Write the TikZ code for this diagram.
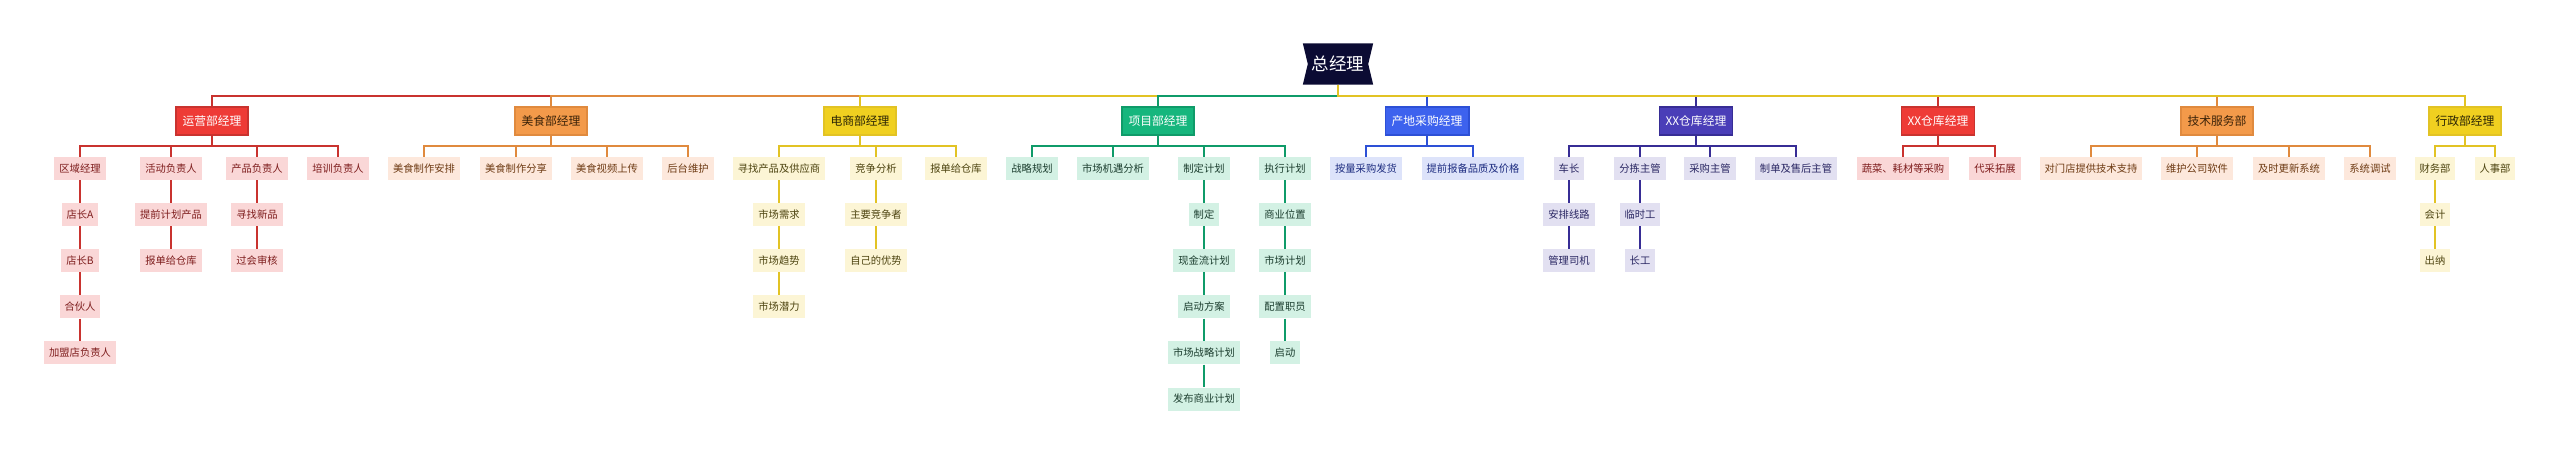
\documentclass[tikz,border=0pt]{standalone}
\usepackage{fontspec}
\setmainfont{Noto Sans CJK SC}
\usetikzlibrary{positioning,backgrounds}

\definecolor{rootbg}{HTML}{0B0B33}
\definecolor{redA}{HTML}{EE3B36}\definecolor{redB}{HTML}{C9332F}\definecolor{redC}{HTML}{FAD7D7}\definecolor{redT}{HTML}{7E1D1D}
\definecolor{oraA}{HTML}{F39A4A}\definecolor{oraB}{HTML}{E08A3E}\definecolor{oraC}{HTML}{FDE8DC}\definecolor{oraT}{HTML}{6E3B14}\definecolor{oraH}{HTML}{3A2208}
\definecolor{yelA}{HTML}{F0D020}\definecolor{yelB}{HTML}{E2C324}\definecolor{yelC}{HTML}{FCF5D5}\definecolor{yelT}{HTML}{4D4410}\definecolor{yelH}{HTML}{2A2405}
\definecolor{grnA}{HTML}{16B67D}\definecolor{grnB}{HTML}{0F9B69}\definecolor{grnC}{HTML}{D3F1E4}\definecolor{grnT}{HTML}{1B3D2E}
\definecolor{bluA}{HTML}{3D62EE}\definecolor{bluB}{HTML}{2D50D6}\definecolor{bluC}{HTML}{DDE3FA}\definecolor{bluT}{HTML}{1D2C80}
\definecolor{indA}{HTML}{4A3EB8}\definecolor{indB}{HTML}{372D95}\definecolor{indC}{HTML}{E2E0F1}\definecolor{indT}{HTML}{2A2763}

\begin{document}
\begin{tikzpicture}[
    x=1pt, y=-1pt,
    node distance=22.7pt,
    gm/.style={minimum width=70pt, minimum height=41pt, inner sep=0pt, text=white, font=\fontsize{17.5}{20}\selectfont},
    dept/.style={draw, line width=1.2pt, minimum height=28pt, inner xsep=6.5pt, inner ysep=0pt, font=\fontsize{11.8}{14}\selectfont},
    item/.style={minimum height=23pt, inner xsep=5pt, inner ysep=0pt, font=\fontsize{10.3}{12}\selectfont},
    link/.style={line width=1.8pt},
    sub/.style={line width=1.6pt},
    redhead/.style={dept, fill=redA, draw=redB, text=white},
    reditem/.style={item, fill=redC, text=redT},
    orahead/.style={dept, fill=oraA, draw=oraB, text=oraH},
    oraitem/.style={item, fill=oraC, text=oraT},
    yelhead/.style={dept, fill=yelA, draw=yelB, text=yelH},
    yelitem/.style={item, fill=yelC, text=yelT},
    grnhead/.style={dept, fill=grnA, draw=grnB, text=white},
    grnitem/.style={item, fill=grnC, text=grnT},
    bluhead/.style={dept, fill=bluA, draw=bluB, text=white},
    bluitem/.style={item, fill=bluC, text=bluT},
    indhead/.style={dept, fill=indA, draw=indB, text=white},
    inditem/.style={item, fill=indC, text=indT}
]
\useasboundingbox (0,0) rectangle (2560,453);

% Root
\node[gm] (gm) at (1338,64) {总经理};
\begin{scope}[on background layer]
\fill[rootbg] (gm.north west) -- (gm.north east) -- ([xshift=-5pt]gm.east) -- (gm.south east) -- (gm.south west) -- ([xshift=5pt]gm.west) -- cycle;
\end{scope}
\coordinate (top) at (0,96);
\coordinate (row) at (0,146);

% 运营部
\node[redhead] (yy) at (212,121) {运营部经理};
\node[reditem] (yy1) at (80,168.5) {区域经理};
\node[reditem, below=of yy1] (yy11) {店长A};
\node[reditem, below=of yy11] (yy12) {店长B};
\node[reditem, below=of yy12] (yy13) {合伙人};
\node[reditem, below=of yy13] (yy14) {加盟店负责人};
\node[reditem] (yy2) at (171,168.5) {活动负责人};
\node[reditem, below=of yy2] (yy21) {提前计划产品};
\node[reditem, below=of yy21] (yy22) {报单给仓库};
\node[reditem] (yy3) at (257,168.5) {产品负责人};
\node[reditem, below=of yy3] (yy31) {寻找新品};
\node[reditem, below=of yy31] (yy32) {过会审核};
\node[reditem] (yy4) at (338,168.5) {培训负责人};

% 美食部
\node[orahead] (ms) at (551,121) {美食部经理};
\node[oraitem] (ms1) at (424,168.5) {美食制作安排};
\node[oraitem] (ms2) at (516,168.5) {美食制作分享};
\node[oraitem] (ms3) at (607,168.5) {美食视频上传};
\node[oraitem] (ms4) at (688,168.5) {后台维护};

% 电商部
\node[yelhead] (ds) at (860,121) {电商部经理};
\node[yelitem] (ds1) at (779,168.5) {寻找产品及供应商};
\node[yelitem, below=of ds1] (ds11) {市场需求};
\node[yelitem, below=of ds11] (ds12) {市场趋势};
\node[yelitem, below=of ds12] (ds13) {市场潜力};
\node[yelitem] (ds2) at (876,168.5) {竞争分析};
\node[yelitem, below=of ds2] (ds21) {主要竞争者};
\node[yelitem, below=of ds21] (ds22) {自己的优势};
\node[yelitem] (ds3) at (956,168.5) {报单给仓库};

% 项目部
\node[grnhead] (xm) at (1158,121) {项目部经理};
\node[grnitem] (xm1) at (1032,168.5) {战略规划};
\node[grnitem] (xm2) at (1113,168.5) {市场机遇分析};
\node[grnitem] (xm3) at (1204,168.5) {制定计划};
\node[grnitem, below=of xm3] (xm31) {制定};
\node[grnitem, below=of xm31] (xm32) {现金流计划};
\node[grnitem, below=of xm32] (xm33) {启动方案};
\node[grnitem, below=of xm33] (xm34) {市场战略计划};
\node[grnitem, below=of xm34] (xm35) {发布商业计划};
\node[grnitem] (xm4) at (1285,168.5) {执行计划};
\node[grnitem, below=of xm4] (xm41) {商业位置};
\node[grnitem, below=of xm41] (xm42) {市场计划};
\node[grnitem, below=of xm42] (xm43) {配置职员};
\node[grnitem, below=of xm43] (xm44) {启动};

% 产地采购
\node[bluhead] (cd) at (1427,121) {产地采购经理};
\node[bluitem] (cd1) at (1366,168.5) {按量采购发货};
\node[bluitem] (cd2) at (1473,168.5) {提前报备品质及价格};

% XX仓库 (indigo)
\node[indhead] (ck) at (1696,121) {XX仓库经理};
\node[inditem] (ck1) at (1569,168.5) {车长};
\node[inditem, below=of ck1] (ck11) {安排线路};
\node[inditem, below=of ck11] (ck12) {管理司机};
\node[inditem] (ck2) at (1640,168.5) {分拣主管};
\node[inditem, below=of ck2] (ck21) {临时工};
\node[inditem, below=of ck21] (ck22) {长工};
\node[inditem] (ck3) at (1710,168.5) {采购主管};
\node[inditem] (ck4) at (1796,168.5) {制单及售后主管};

% XX仓库 (red)
\node[redhead] (cg) at (1938,121) {XX仓库经理};
\node[reditem] (cg1) at (1903,168.5) {蔬菜、耗材等采购};
\node[reditem] (cg2) at (1995,168.5) {代采拓展};

% 技术服务部
\node[orahead] (js) at (2217,121) {技术服务部};
\node[oraitem] (js1) at (2091,168.5) {对门店提供技术支持};
\node[oraitem] (js2) at (2197,168.5) {维护公司软件};
\node[oraitem] (js3) at (2289,168.5) {及时更新系统};
\node[oraitem] (js4) at (2370,168.5) {系统调试};

% 行政部
\node[yelhead] (xz) at (2465,121) {行政部经理};
\node[yelitem] (xz1) at (2435,168.5) {财务部};
\node[yelitem, below=of xz1] (xz11) {会计};
\node[yelitem, below=of xz11] (xz12) {出纳};
\node[yelitem] (xz2) at (2495,168.5) {人事部};

% Root links (later ones on top)
\draw[link, redB] (gm.south) |- (yy.north |- top) -- (yy.north);
\draw[link, oraB] (gm.south) |- (ms.north |- top) -- (ms.north);
\draw[link, yelB] (gm.south) |- (ds.north |- top) -- (ds.north);
\draw[link, grnB] (gm.south) |- (xm.north |- top) -- (xm.north);
\draw[link, bluB] (gm.south) |- (cd.north |- top) -- (cd.north);
\draw[link, indB] (gm.south) |- (ck.north |- top) -- (ck.north);
\draw[link, redB] (gm.south) |- (cg.north |- top) -- (cg.north);
\draw[link, oraB] (gm.south) |- (js.north |- top) -- (js.north);
\draw[link, yelB] (gm.south) |- (xz.north |- top) -- (xz.north);

% Branch links
\draw[sub, redB] (yy.south) |- (yy1.north |- row) -- (yy1.north);
\draw[sub, redB] (yy.south) |- (yy2.north |- row) -- (yy2.north);
\draw[sub, redB] (yy.south) |- (yy3.north |- row) -- (yy3.north);
\draw[sub, redB] (yy.south) |- (yy4.north |- row) -- (yy4.north);
\draw[sub, redB] (yy1) -- (yy11) (yy11) -- (yy12) (yy12) -- (yy13) (yy13) -- (yy14);
\draw[sub, redB] (yy2) -- (yy21) (yy21) -- (yy22) (yy3) -- (yy31) (yy31) -- (yy32);

\draw[sub, oraB] (ms.south) |- (ms1.north |- row) -- (ms1.north);
\draw[sub, oraB] (ms.south) |- (ms2.north |- row) -- (ms2.north);
\draw[sub, oraB] (ms.south) |- (ms3.north |- row) -- (ms3.north);
\draw[sub, oraB] (ms.south) |- (ms4.north |- row) -- (ms4.north);

\draw[sub, yelB] (ds.south) |- (ds1.north |- row) -- (ds1.north);
\draw[sub, yelB] (ds.south) |- (ds2.north |- row) -- (ds2.north);
\draw[sub, yelB] (ds.south) |- (ds3.north |- row) -- (ds3.north);
\draw[sub, yelB] (ds1) -- (ds11) (ds11) -- (ds12) (ds12) -- (ds13) (ds2) -- (ds21) (ds21) -- (ds22);

\draw[sub, grnB] (xm.south) |- (xm1.north |- row) -- (xm1.north);
\draw[sub, grnB] (xm.south) |- (xm2.north |- row) -- (xm2.north);
\draw[sub, grnB] (xm.south) |- (xm3.north |- row) -- (xm3.north);
\draw[sub, grnB] (xm.south) |- (xm4.north |- row) -- (xm4.north);
\draw[sub, grnB] (xm3) -- (xm31) (xm31) -- (xm32) (xm32) -- (xm33) (xm33) -- (xm34) (xm34) -- (xm35);
\draw[sub, grnB] (xm4) -- (xm41) (xm41) -- (xm42) (xm42) -- (xm43) (xm43) -- (xm44);

\draw[sub, bluB] (cd.south) |- (cd1.north |- row) -- (cd1.north);
\draw[sub, bluB] (cd.south) |- (cd2.north |- row) -- (cd2.north);

\draw[sub, indB] (ck.south) |- (ck1.north |- row) -- (ck1.north);
\draw[sub, indB] (ck.south) |- (ck2.north |- row) -- (ck2.north);
\draw[sub, indB] (ck.south) |- (ck3.north |- row) -- (ck3.north);
\draw[sub, indB] (ck.south) |- (ck4.north |- row) -- (ck4.north);
\draw[sub, indB] (ck1) -- (ck11) (ck11) -- (ck12) (ck2) -- (ck21) (ck21) -- (ck22);

\draw[sub, redB] (cg.south) |- (cg1.north |- row) -- (cg1.north);
\draw[sub, redB] (cg.south) |- (cg2.north |- row) -- (cg2.north);

\draw[sub, oraB] (js.south) |- (js1.north |- row) -- (js1.north);
\draw[sub, oraB] (js.south) |- (js2.north |- row) -- (js2.north);
\draw[sub, oraB] (js.south) |- (js3.north |- row) -- (js3.north);
\draw[sub, oraB] (js.south) |- (js4.north |- row) -- (js4.north);

\draw[sub, yelB] (xz.south) |- (xz1.north |- row) -- (xz1.north);
\draw[sub, yelB] (xz.south) |- (xz2.north |- row) -- (xz2.north);
\draw[sub, yelB] (xz1) -- (xz11) (xz11) -- (xz12);

\end{tikzpicture}
\end{document}
